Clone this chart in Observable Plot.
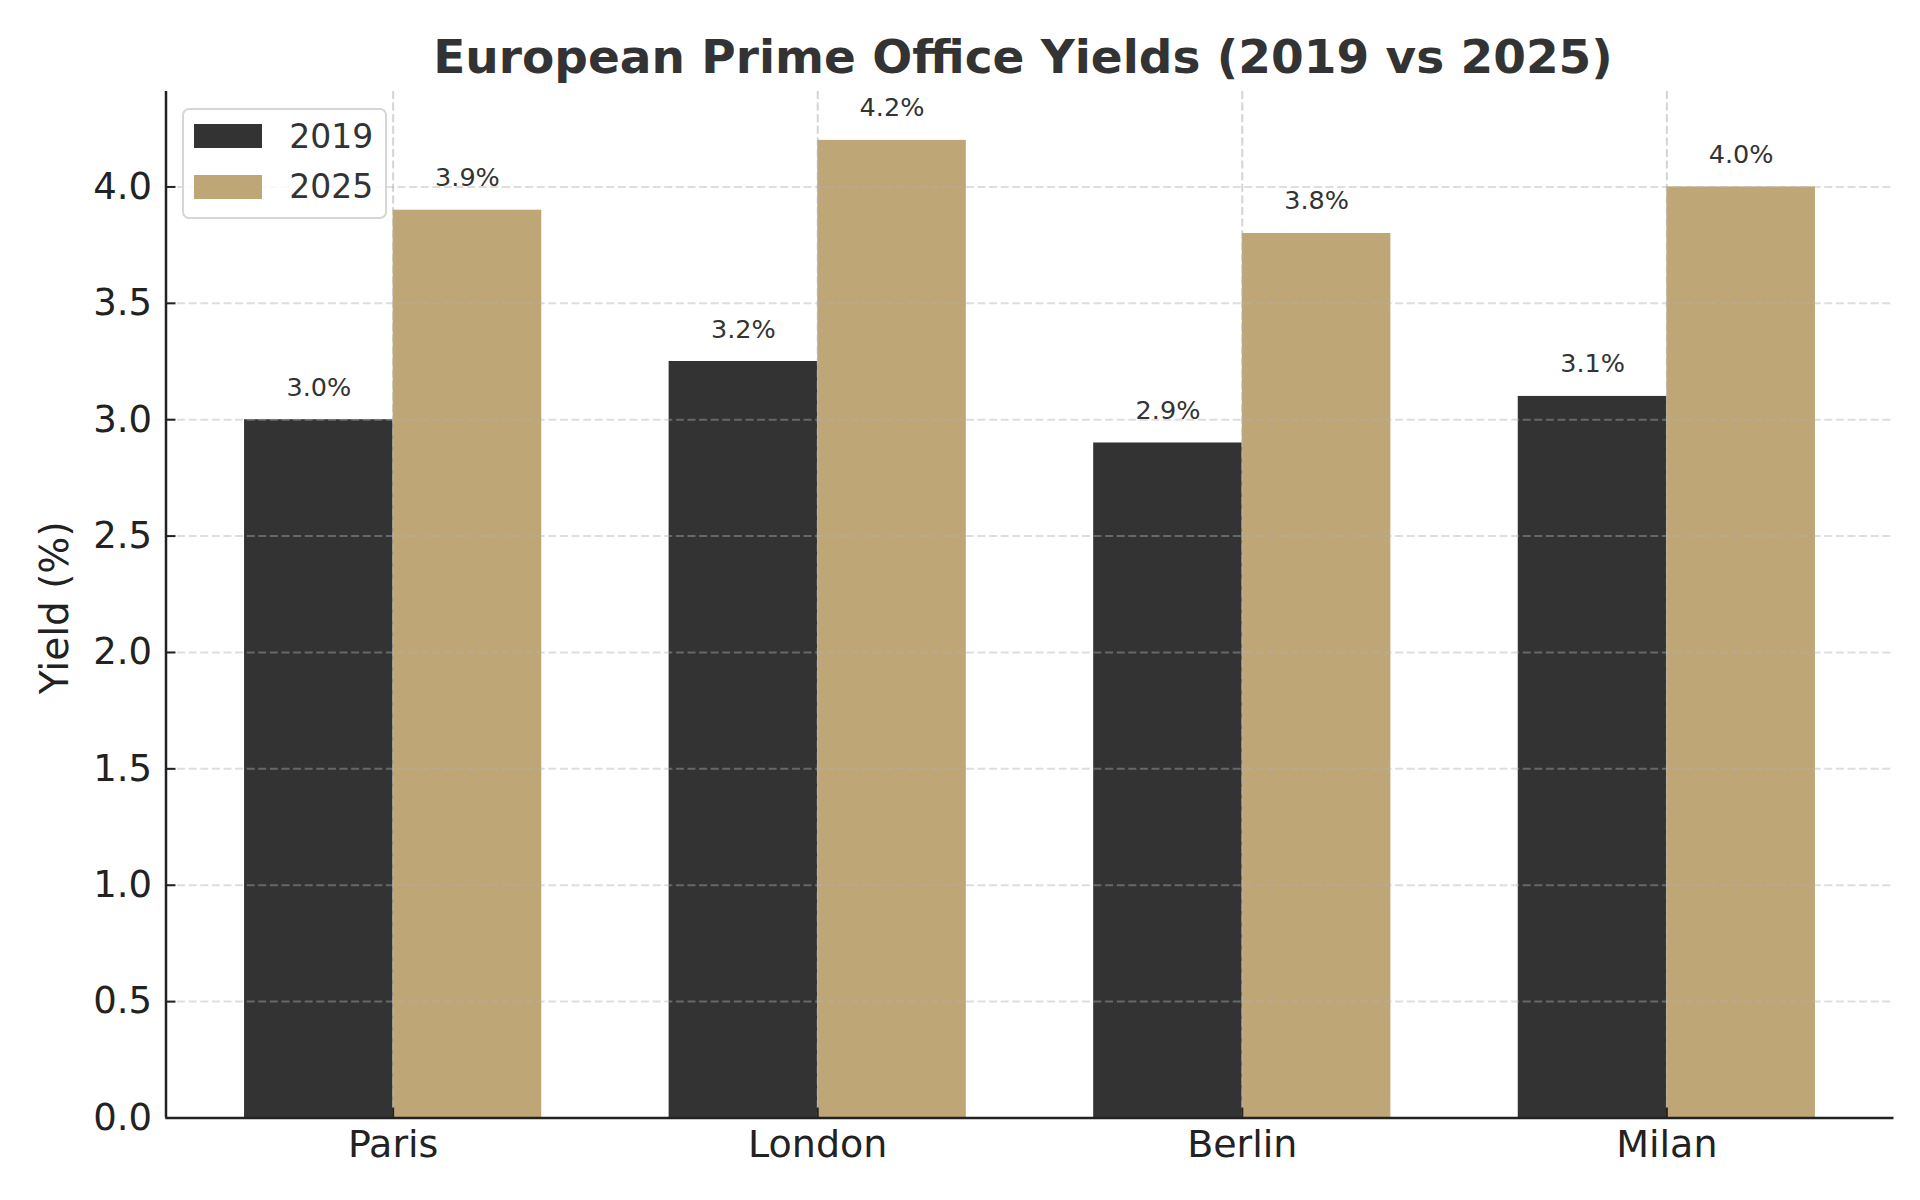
<!DOCTYPE html>
<html>
<head>
<meta charset="utf-8">
<script src="https://cdn.jsdelivr.net/npm/d3@7"></script>
<script src="https://cdn.jsdelivr.net/npm/@observablehq/plot@0.6"></script>
<style>
  html, body { margin: 0; padding: 0; background: #fff; }
  body { width: 1920px; height: 1200px; position: relative; font-family: "DejaVu Sans", sans-serif; overflow: hidden; }
  #title { height: 80px; box-sizing: border-box; padding-top: 32.5px; line-height: 47px; font-size: 47px; font-weight: bold; color: #333; text-align: center; padding-left: 146px; padding-right: 20px; white-space: nowrap; }
  #chart svg { display: block; }
  #legend { position: absolute; left: 181.7px; top: 108.3px; width: 205px; height: 110.7px; box-sizing: border-box; border: 2px solid #d6d6d6; border-radius: 7px; background: rgba(255,255,255,0.85); z-index: 5; }
  #legend .sw { position: absolute; left: 10.6px; width: 67.4px; height: 24px; }
  #legend .lb { position: absolute; left: 105.6px; font-size: 33px; line-height: 33px; color: #333; white-space: nowrap; }
</style>
</head>
<body>
<div id="title">European Prime Office Yields (2019 vs 2025)</div>
<div id="chart"></div>
<div id="legend"></div>
<script>
// ---- data ----
const cities = ["Paris", "London", "Berlin", "Milan"];
const years = ["2019", "2025"];
const yield2019 = [3.0, 3.25, 2.9, 3.1];
const yield2025 = [3.9, 4.2, 3.8, 4.0];
const labels2019 = ["3.0%", "3.2%", "2.9%", "3.1%"];
const labels2025 = ["3.9%", "4.2%", "3.8%", "4.0%"];
const yTicks = [0, 0.5, 1.0, 1.5, 2.0, 2.5, 3.0, 3.5, 4.0];
const yLabel = "Yield (%)";
const colors = ["#333333", "#bfa677"];

// ---- layout constants ----
const barW = 0.35;
const xPad = 0.185;
const xDomain = [-barW - xPad, cities.length - 1 + barW + xPad];
const yDomain = [0, 4.41];
const xTicks = cities.map((c, i) => i);

const rows = [];
cities.forEach((c, i) => {
  rows.push({city: c, i, year: years[0], value: yield2019[i], label: labels2019[i], x1: i - barW, x2: i});
  rows.push({city: c, i, year: years[1], value: yield2025[i], label: labels2025[i], x1: i, x2: i + barW});
});

const gridStyle = {stroke: "#b0b0b0", strokeOpacity: 0.42, strokeWidth: 2, strokeDasharray: "8,3.6"};

const chart = Plot.plot({
  width: 1920,
  height: 1120,
  marginTop: 11,
  marginBottom: 82.5,
  marginLeft: 165.5,
  marginRight: 26.5,
  style: {fontFamily: "DejaVu Sans, sans-serif", background: "white", color: "#222"},
  x: {type: "linear", domain: xDomain},
  y: {domain: yDomain},
  color: {domain: years, range: colors},
  marks: [
    Plot.rectY(rows, {x1: "x1", x2: "x2", y1: 0, y2: "value", fill: "year"}),
    Plot.gridY(yTicks, gridStyle),
    Plot.gridX(xTicks, {...gridStyle, strokeOpacity: 0.55}),
    Plot.text(rows, {x: d => (d.x1 + d.x2) / 2, y: "value", text: "label", dy: -24, lineAnchor: "bottom", fontSize: 25.5, fill: "#333"}),
    Plot.axisY(yTicks, {tickFormat: d3.format(".1f"), tickSize: -10, tickPadding: 24, fontSize: 37, color: "#222", strokeWidth: 2, label: null}),
    Plot.axisX(xTicks, {tickFormat: i => cities[i], tickSize: -10, tickPadding: 22.5, fontSize: 38, color: "#222", strokeWidth: 2, label: null}),
    Plot.ruleX([xDomain[0]], {stroke: "#222", strokeWidth: 2.5}),
    Plot.ruleY([0], {stroke: "#222", strokeWidth: 2.5}),
    Plot.text([yLabel], {frameAnchor: "left", textAnchor: "middle", lineAnchor: "middle", dx: -110, dy: 3, rotate: -90, fontSize: 39, fill: "#222"})
  ]
});
document.getElementById("chart").appendChild(chart);

// ---- legend ----
const legend = document.getElementById("legend");
const swTops = [14, 64.7];
const lbTops = [10.1, 59.5];
years.forEach((y, k) => {
  const sw = document.createElement("div");
  sw.className = "sw";
  sw.style.top = swTops[k] + "px";
  sw.style.background = colors[k];
  legend.appendChild(sw);
  const lb = document.createElement("div");
  lb.className = "lb";
  lb.style.top = lbTops[k] + "px";
  lb.textContent = y;
  legend.appendChild(lb);
});
</script>
</body>
</html>
